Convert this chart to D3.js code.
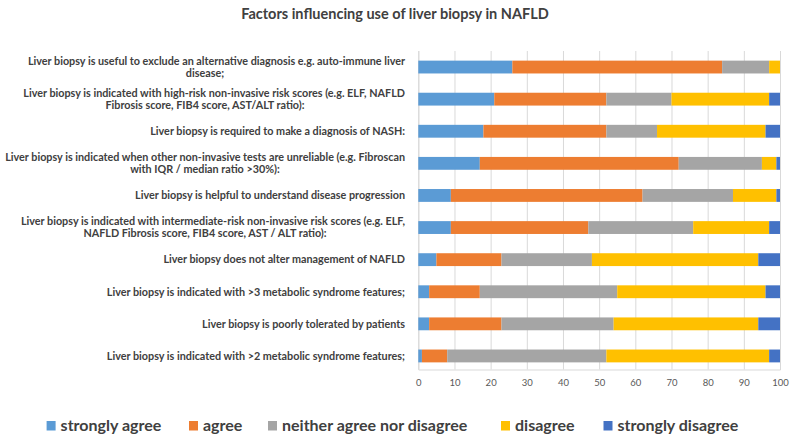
<!DOCTYPE html>
<html><head><meta charset="utf-8">
<script src="https://cdn.jsdelivr.net/npm/d3@7"></script>
<style>body{margin:0;background:#fff;} svg{display:block;}</style>
</head><body><svg id="c" width="790" height="438"></svg>
<script>
const title = "Factors influencing use of liver biopsy in NAFLD";
const categories = [
  ["Liver biopsy is useful to exclude an alternative diagnosis e.g. auto-immune liver", "disease;"],
  ["Liver biopsy is indicated with high-risk non-invasive risk scores (e.g. ELF, NAFLD", "Fibrosis score, FIB4 score, AST/ALT ratio):"],
  ["Liver biopsy is required to make a diagnosis of NASH:"],
  ["Liver biopsy is indicated when other non-invasive tests are unreliable (e.g. Fibroscan", "with IQR / median ratio >30%):"],
  ["Liver biopsy is helpful to understand disease progression"],
  ["Liver biopsy is indicated with intermediate-risk non-invasive risk scores (e.g. ELF,", "NAFLD Fibrosis score, FIB4 score, AST / ALT ratio):"],
  ["Liver biopsy does not alter management of NAFLD"],
  ["Liver biopsy is indicated with >3 metabolic syndrome features;"],
  ["Liver biopsy is poorly tolerated by patients"],
  ["Liver biopsy is indicated with >2 metabolic syndrome features;"]
];
const seriesNames = ["strongly agree", "agree", "neither agree nor disagree", "disagree", "strongly disagree"];
const stronglyAgree = [26, 21, 18, 17, 9, 9, 5, 3, 3, 1];
const agree         = [58, 31, 34, 55, 53, 38, 18, 14, 20, 7];
const neither       = [13, 18, 14, 23, 25, 29, 25, 38, 31, 44];
const disagree      = [3, 27, 30, 4, 12, 21, 46, 41, 40, 45];
const stronglyDis   = [0, 3, 4, 1, 1, 3, 6, 4, 6, 3];
const xTicks = [0, 10, 20, 30, 40, 50, 60, 70, 80, 90, 100];
const colors = ["#5B9BD5", "#ED7D31", "#A5A5A5", "#FFC000", "#4472C4"];

const svg = d3.select("#c");
const font = "Lato, 'Open Sans', sans-serif";
const m = {left: 418.3, right: 780, top: 51, bottom: 372};

const x = d3.scaleLinear().domain([0, 100]).range([m.left, m.right]);
const y = d3.scaleBand().domain(d3.range(categories.length)).range([m.top, m.bottom]).paddingInner(0.6).paddingOuter(0.3);

svg.append("text").attr("x", 395).attr("y", 19).attr("text-anchor", "middle")
  .attr("font-family", font).attr("font-weight", "bold").attr("font-size", 14.5).attr("fill", "#404040").text(title);

// gridlines
const xAxis = d3.axisBottom(x).tickValues(xTicks).tickSize(-(369.5 - m.top)).tickFormat(d3.format("d"));
const gx = svg.append("g").attr("transform", `translate(0,369.5)`).call(xAxis);
gx.select(".domain").attr("stroke", "#d9d9d9");
gx.selectAll(".tick line").attr("stroke", "#d9d9d9");
gx.selectAll(".tick text").attr("font-family", font).attr("font-size", 9.5).attr("fill", "#595959").attr("y", 12.8).attr("dy", "0.35em");

const rows = categories.map((c, i) => ({i, vals: [stronglyAgree[i], agree[i], neither[i], disagree[i], stronglyDis[i]]}));
const stack = d3.stack().keys(d3.range(5)).value((d, k) => d.vals[k]);
const stacked = stack(rows);

svg.append("g").selectAll("g").data(stacked).join("g").attr("fill", (d, k) => colors[k])
  .selectAll("rect").data(d => d).join("rect")
  .attr("x", d => x(d[0])).attr("width", d => x(d[1]) - x(d[0]))
  .attr("y", d => y(d.data.i)).attr("height", y.bandwidth());

// y labels
const lineH = 11.8;
const lab = svg.append("g").attr("font-family", font).attr("font-weight", "bold").attr("font-size", 10.8).attr("fill", "#404040");
categories.forEach((lines, i) => {
  const cy = y(i) + y.bandwidth() / 2;
  const y0 = cy - (lines.length - 1) * lineH / 2;
  lab.append("text").attr("x", 405).attr("y", y0).attr("dy", "0.35em").attr("text-anchor", "end").text(lines[0]);
  if (lines.length > 1) {
    lab.append("text").attr("x", 205).attr("y", y0 + lineH).attr("dy", "0.35em").attr("text-anchor", "middle").text(lines[1]);
  }
});

// legend
const legX = [46.6, 189, 268, 501, 603.5];
const lg = svg.append("g").attr("font-family", font).attr("font-weight", "bold").attr("font-size", 16).attr("fill", "#404040");
seriesNames.forEach((s, k) => {
  lg.append("rect").attr("x", legX[k]).attr("y", 421).attr("width", 9).attr("height", 9.5).attr("fill", colors[k]);
  lg.append("text").attr("x", legX[k] + 14).attr("y", 425.7).attr("dy", "0.35em").text(s);
});
</script></body></html>
